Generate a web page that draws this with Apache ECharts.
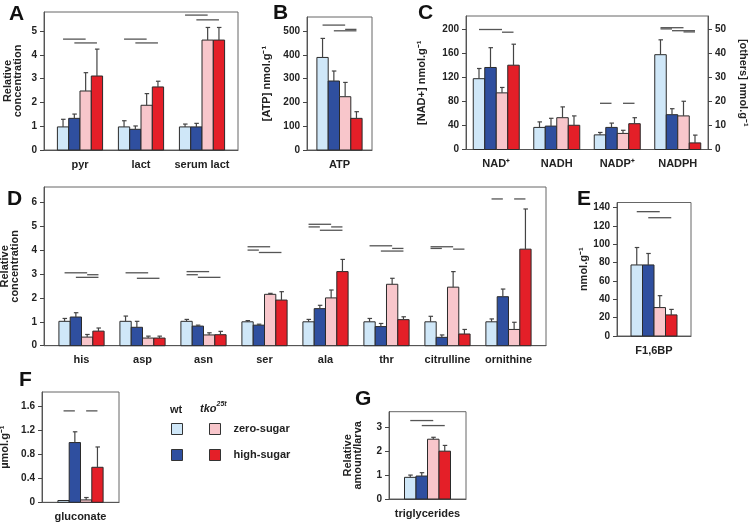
<!DOCTYPE html>
<html><head><meta charset="utf-8">
<script src="https://cdn.jsdelivr.net/npm/echarts@6/dist/echarts.min.js"></script>
<style>html,body{margin:0;padding:0;background:#fff}#c{width:750px;height:522px}</style>
</head><body><div id="c"></div>
<script>
// ================= DATA =================
const conditionNames = ['wt zero-sugar', 'wt high-sugar', 'tko zero-sugar', 'tko high-sugar'];

// A
const A_categories = ['pyr', 'lact', 'serum lact'];
const A_wtZero = [0.97, 0.97, 0.97];
const A_wtHigh = [1.33, 0.87, 0.97];
const A_tkoZero = [2.48, 1.88, 4.62];
const A_tkoHigh = [3.11, 2.65, 4.62];
const A_wtZeroErr = [0.32, 0.26, 0.12];
const A_wtHighErr = [0.18, 0.14, 0.15];
const A_tkoZeroErr = [0.77, 0.49, 0.53];
const A_tkoHighErr = [1.13, 0.24, 0.53];
// [category, fromBar, toBar, level]
const A_sig = [[0,0,2,4.66],[0,1,3,4.5],[1,0,2,4.66],[1,1,3,4.5],[2,0,2,5.67],[2,1,3,5.47]];
const A_ticks = [0, 1, 2, 3, 4, 5];

// B
const B_categories = ['ATP'];
const B_wtZero = [389], B_wtZeroErr = [80];
const B_wtHigh = [290], B_wtHighErr = [42];
const B_tkoZero = [224], B_tkoZeroErr = [60];
const B_tkoHigh = [133], B_tkoHighErr = [28];
const B_sig = [[0,0,2,525],[0,2,3,507],[0,1,3,501]];
const B_ticks = [0, 100, 200, 300, 400, 500];

// C  (NAD+ on left axis, the others on right axis)
const C_categories = ['NAD⁺', 'NADH', 'NADP⁺', 'NADPH'];
const C_axisSide = ['left', 'right', 'right', 'right'];
const C_wtZero = [118, 9.2, 6.1, 39.5];
const C_wtHigh = [136.7, 9.75, 9.2, 14.5];
const C_tkoZero = [94.4, 13.25, 6.7, 14];
const C_tkoHigh = [140.5, 10.1, 10.75, 2.75];
const C_wtZeroErr = [17, 2.3, 1.0, 6.2];
const C_wtHighErr = [33, 3.25, 1.8, 2.5];
const C_tkoZeroErr = [9, 4.5, 1.3, 6.1];
const C_tkoHighErr = [35, 3.9, 2.5, 3.25];
const C_sig = [[0,0,2,200],[0,2,3,195.5],[2,0,1,19.25],[2,2,3,19.25],[3,0,2,50.75],[3,0,1,50.25],[3,1,3,49.5],[3,2,3,49]];
const C_leftTicks = [0, 40, 80, 120, 160, 200];
const C_rightTicks = [0, 10, 20, 30, 40, 50];

// D
const D_categories = ['his', 'asp', 'asn', 'ser', 'ala', 'thr', 'citrulline', 'ornithine'];
const D_wtZero = [1.02, 1.02, 1.02, 1.0, 1.0, 1.0, 1.0, 1.0];
const D_wtHigh = [1.2, 0.77, 0.82, 0.86, 1.55, 0.8, 0.35, 2.05];
const D_tkoZero = [0.36, 0.32, 0.45, 2.15, 2.0, 2.57, 2.45, 0.68];
const D_tkoHigh = [0.61, 0.32, 0.46, 1.91, 3.1, 1.09, 0.49, 4.04];
const D_wtZeroErr = [0.12, 0.22, 0.08, 0.05, 0.1, 0.14, 0.23, 0.12];
const D_wtHighErr = [0.18, 0.25, 0.04, 0.04, 0.14, 0.13, 0.1, 0.32];
const D_tkoZeroErr = [0.11, 0.08, 0.09, 0.04, 0.33, 0.25, 0.65, 0.3];
const D_tkoHighErr = [0.13, 0.08, 0.14, 0.35, 0.51, 0.12, 0.19, 1.68];
const D_sig = [
  [0,0,2,3.05],[0,2,3,2.97],[0,1,3,2.86],
  [1,0,2,3.05],[1,1,3,2.82],
  [2,0,2,3.1],[2,0,1,2.97],[2,1,3,2.86],
  [3,0,2,4.14],[3,0,1,4.0],[3,1,3,3.9],
  [4,0,2,5.08],[4,0,1,4.97],[4,2,3,4.97],[4,1,3,4.83],
  [5,0,2,4.18],[5,2,3,4.07],[5,1,3,3.96],
  [6,0,2,4.14],[6,0,1,4.07],[6,2,3,4.04],
  [7,0,1,6.14],[7,2,3,6.14]
];
const D_ticks = [0, 1, 2, 3, 4, 5, 6];

// E
const E_categories = ['F1,6BP'];
const E_wtZero = [77.5], E_wtZeroErr = [19];
const E_wtHigh = [77.5], E_wtHighErr = [12.5];
const E_tkoZero = [31], E_tkoZeroErr = [13];
const E_tkoHigh = [23], E_tkoHighErr = [6];
const E_sig = [[0,0,2,135.6],[0,1,3,129]];
const E_ticks = [0, 20, 40, 60, 80, 100, 120, 140];

// F
const F_categories = ['gluconate'];
const F_wtZero = [0.03], F_wtZeroErr = [0];
const F_wtHigh = [1.0], F_wtHighErr = [0.18];
const F_tkoZero = [0.04], F_tkoZeroErr = [0.04];
const F_tkoHigh = [0.586], F_tkoHighErr = [0.34];
const F_sig = [[0,0,1,1.53],[0,2,3,1.53]];
const F_ticks = [0, 0.4, 0.8, 1.2, 1.6];

// G
const G_categories = ['triglycerides'];
const G_wtZero = [0.906], G_wtZeroErr = [0.094];
const G_wtHigh = [0.96], G_wtHighErr = [0.14];
const G_tkoZero = [2.5], G_tkoZeroErr = [0.08];
const G_tkoHigh = [2.0], G_tkoHighErr = [0.24];
const G_sig = [[0,0,2,3.28],[0,1,3,3.07]];
const G_ticks = [0, 1, 2, 3];

// ================= STYLE / LAYOUT =================
const COLORS = ['#cfe7f8', '#2f4f9f', '#f8c6cb', '#e41f28'];
const FONT = '"Liberation Sans", Arial, Helvetica, sans-serif';
const TXT = '#222';

const option = { animation: false, grid: [], xAxis: [], yAxis: [], series: [], legend: [], graphic: [] };

function yAxisCfg(gi, max, ticks, pos, name, gap, rot) {
  return {
    type: 'value', gridIndex: gi, position: pos, min: 0, max: max,
    splitLine: { show: false },
    axisLine: { show: true, onZero: false, lineStyle: { color: '#555', width: 1 } },
    axisTick: { show: true, length: 4, customValues: ticks, lineStyle: { color: '#444' } },
    axisLabel: { customValues: ticks, color: TXT, fontFamily: FONT, fontWeight: 'bold', fontSize: 10, margin: 7 },
    name: name, nameLocation: 'middle', nameGap: gap, nameRotate: rot,
    nameTextStyle: { color: TXT, fontFamily: FONT, fontWeight: 'bold', fontSize: 11, lineHeight: 10 }
  };
}

function barRenderer(k, bw) {
  return function (params, api) {
    const cat = api.value(0), mean = api.value(1), err = api.value(2);
    const top = api.coord([cat, mean]);
    const base = api.coord([cat, 0]);
    const cx = top[0] + (k - 1.5) * bw;
    const kids = [{ type: 'rect', shape: { x: cx - bw / 2, y: top[1], width: bw, height: base[1] - top[1] },
      style: { fill: COLORS[k], stroke: '#2b2b2b', lineWidth: 1 } }];
    if (err > 0) {
      const cap = api.coord([cat, mean + err]);
      kids.push({ type: 'line', shape: { x1: cx, y1: top[1], x2: cx, y2: cap[1] }, style: { stroke: '#444', lineWidth: 1.2 } });
      kids.push({ type: 'line', shape: { x1: cx - 2, y1: cap[1], x2: cx + 2.5, y2: cap[1] }, style: { stroke: '#444', lineWidth: 1.2 } });
    }
    return { type: 'group', children: kids };
  };
}

function sigRenderer(bw) {
  return function (params, api) {
    const c = api.coord([api.value(0), api.value(3)]);
    const x1 = c[0] + (api.value(1) - 1.5) * bw, x2 = c[0] + (api.value(2) - 1.5) * bw;
    return { type: 'line', shape: { x1: x1, y1: c[1], x2: x2, y2: c[1] }, style: { stroke: '#555', lineWidth: 1.3 } };
  };
}

function addPanel(p) {
  const gi = option.grid.length;
  option.grid.push({ left: p.left, top: p.top, width: p.width, height: p.height, show: true,
    borderColor: '#666', borderWidth: 1, backgroundColor: 'transparent', outerBoundsMode: 'none' });
  const n = p.cats.length;
  const xi = option.xAxis.length;
  option.xAxis.push({
    type: 'value', gridIndex: gi, min: -0.5 - p.pad, max: n - 0.5 + p.pad,
    splitLine: { show: false }, axisTick: { show: false },
    axisLine: { show: true, onZero: false, lineStyle: { color: '#555', width: 1 } },
    axisLabel: { customValues: p.cats.map((c, i) => i), formatter: v => p.cats[Math.round(v)],
      color: TXT, fontFamily: FONT, fontWeight: 'bold', fontSize: 11, margin: 9 }
  });
  const axisIdx = {};
  axisIdx.left = option.yAxis.length;
  option.yAxis.push(yAxisCfg(gi, p.yMax, p.yTicks, 'left', p.yName, p.nameGap, 90));
  if (p.right) {
    axisIdx.right = option.yAxis.length;
    option.yAxis.push(yAxisCfg(gi, p.right.yMax, p.right.yTicks, 'right', p.right.yName, p.right.nameGap, -90));
  }
  const sides = p.sides || p.cats.map(() => 'left');
  const usedSides = Array.from(new Set(sides));
  usedSides.forEach(side => {
    for (let k = 0; k < 4; k++) {
      const data = [];
      p.cats.forEach((c, i) => { if (sides[i] === side) data.push([i, p.means[k][i], p.errs[k][i]]); });
      option.series.push({ type: 'custom', name: conditionNames[k], xAxisIndex: xi, yAxisIndex: axisIdx[side],
        itemStyle: { color: COLORS[k] }, encode: { x: 0, y: 1 }, data: data, renderItem: barRenderer(k, p.bw), silent: true });
    }
    const sdata = p.sig.filter(s => sides[s[0]] === side);
    option.series.push({ type: 'custom', name: 'significance', xAxisIndex: xi, yAxisIndex: axisIdx[side],
      encode: { x: 0, y: 3 }, data: sdata, renderItem: sigRenderer(p.bw), silent: true });
  });
}

addPanel({ cats: A_categories, means: [A_wtZero, A_wtHigh, A_tkoZero, A_tkoHigh], errs: [A_wtZeroErr, A_wtHighErr, A_tkoZeroErr, A_tkoHighErr],
  sig: A_sig, yTicks: A_ticks, yMax: 5.8, yName: 'Relative\nconcentration', nameGap: 21,
  left: 44, top: 12, width: 194, height: 138, pad: 0.09, bw: 11.3 });
addPanel({ cats: B_categories, means: [B_wtZero, B_wtHigh, B_tkoZero, B_tkoHigh], errs: [B_wtZeroErr, B_wtHighErr, B_tkoZeroErr, B_tkoHighErr],
  sig: B_sig, yTicks: B_ticks, yMax: 559, yName: '[ATP] nmol.g⁻¹', nameGap: 35,
  left: 307, top: 17, width: 65, height: 133, pad: 0, bw: 11.3 });
addPanel({ cats: C_categories, sides: C_axisSide, means: [C_wtZero, C_wtHigh, C_tkoZero, C_tkoHigh], errs: [C_wtZeroErr, C_wtHighErr, C_tkoZeroErr, C_tkoHighErr],
  sig: C_sig, yTicks: C_leftTicks, yMax: 222.5, yName: '[NAD+] nmol.g⁻¹', nameGap: 39,
  right: { yTicks: C_rightTicks, yMax: 55.625, yName: '[others] nmol.g⁻¹', nameGap: 30 },
  left: 466, top: 16, width: 242, height: 133.5, pad: 0, bw: 11.5 });
addPanel({ cats: D_categories, means: [D_wtZero, D_wtHigh, D_tkoZero, D_tkoHigh], errs: [D_wtZeroErr, D_wtHighErr, D_tkoZeroErr, D_tkoHighErr],
  sig: D_sig, yTicks: D_ticks, yMax: 6.64, yName: 'Relative\nconcentration', nameGap: 21,
  left: 44, top: 187, width: 502, height: 158.7, pad: 0.115, bw: 11.3 });
addPanel({ cats: E_categories, means: [E_wtZero, E_wtHigh, E_tkoZero, E_tkoHigh], errs: [E_wtZeroErr, E_wtHighErr, E_tkoZeroErr, E_tkoHighErr],
  sig: E_sig, yTicks: E_ticks, yMax: 145.6, yName: 'nmol.g⁻¹', nameGap: 28,
  left: 617, top: 202.5, width: 74, height: 133.5, pad: 0, bw: 11.5 });
addPanel({ cats: F_categories, means: [F_wtZero, F_wtHigh, F_tkoZero, F_tkoHigh], errs: [F_wtZeroErr, F_wtHighErr, F_tkoZeroErr, F_tkoHighErr],
  sig: F_sig, yTicks: F_ticks, yMax: 1.846, yName: 'µmol.g⁻¹', nameGap: 32,
  left: 42, top: 392, width: 77, height: 110.3, pad: 0, bw: 11.3 });
addPanel({ cats: G_categories, means: [G_wtZero, G_wtHigh, G_tkoZero, G_tkoHigh], errs: [G_wtZeroErr, G_wtHighErr, G_tkoZeroErr, G_tkoHighErr],
  sig: G_sig, yTicks: G_ticks, yMax: 3.65, yName: 'Relative\namount/larva', nameGap: 26,
  left: 389, top: 411.7, width: 77, height: 87.3, pad: 0, bw: 11.5 });

// legend (two columns: wt / tko)
const legendCommon = { orient: 'vertical', itemWidth: 11, itemHeight: 11, itemGap: 14, icon: 'rect', selectedMode: false, padding: 0,
  itemStyle: { borderColor: '#333', borderWidth: 1 },
  textStyle: { color: TXT, fontFamily: FONT, fontWeight: 'bold', fontSize: 11 } };
option.legend.push(Object.assign({}, legendCommon, { data: [conditionNames[0], conditionNames[1]], left: 171, top: 423, formatter: () => '' }));
option.legend.push(Object.assign({}, legendCommon, { data: [conditionNames[2], conditionNames[3]], left: 209, top: 423,
  formatter: n => '{t|' + n.replace('tko ', '') + '}',
  textStyle: Object.assign({}, legendCommon.textStyle, { rich: { t: { fontFamily: FONT, fontWeight: 'bold', fontSize: 11, color: TXT, padding: [0, 0, 0, 8] } } }) }));

// panel letters and legend headers
const letterStyle = { fill: '#111', font: 'bold 21px ' + FONT };
[['A', 9, 4], ['B', 273, 3], ['C', 418, 3], ['D', 7, 189], ['E', 577, 189], ['F', 19, 370], ['G', 355, 389]].forEach(l => {
  option.graphic.push({ type: 'text', x: l[1], y: l[2], style: Object.assign({ text: l[0] }, letterStyle) });
});
option.graphic.push({ type: 'text', x: 170, y: 404, style: { text: 'wt', fill: TXT, font: 'bold 11px ' + FONT } });
option.graphic.push({ type: 'text', x: 200, y: 401, style: { text: '{i|tko}{s|25t}', fill: TXT,
  rich: { i: { fontFamily: FONT, fontWeight: 'bold', fontStyle: 'italic', fontSize: 11, color: TXT, verticalAlign: 'bottom', lineHeight: 13 },
          s: { fontFamily: FONT, fontWeight: 'bold', fontStyle: 'italic', fontSize: 7, color: TXT, verticalAlign: 'top', lineHeight: 13 } } } });

const chart = echarts.init(document.getElementById('c'), null, { renderer: 'canvas' });
chart.setOption(option);
</script>
</body></html>
